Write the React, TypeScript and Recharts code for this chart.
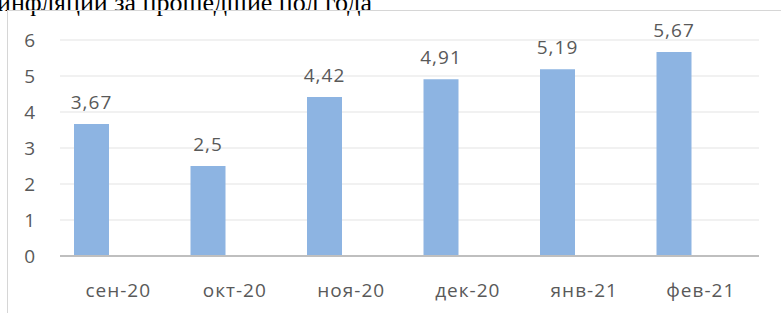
import { BarChart, Bar, CartesianGrid, XAxis, YAxis, LabelList } from 'recharts'

const months = ['сен-20', 'окт-20', 'ноя-20', 'дек-20', 'янв-21', 'фев-21']
const inflation = [3.67, 2.5, 4.42, 4.91, 5.19, 5.67]
const yTicks = [0, 1, 2, 3, 4, 5, 6]

const data = months.map((m, i) => ({ month: m, value: inflation[i], pad: null }))

const textColor = '#595959'
const font = '"Open Sans", sans-serif'
const textStyle = { fill: textColor, fontSize: 19, fontFamily: font, letterSpacing: 1 }

const fmt = (v: any) => (v == null ? '' : String(v).replace('.', ','))

export default function App() {
    return (
        <div style={{ position: 'absolute', left: 0, top: 0, width: 781, height: 313, overflow: 'hidden', background: '#fff' }}>
            <div style={{
                position: 'absolute', left: -3, top: -10, whiteSpace: 'nowrap',
                fontFamily: '"Liberation Serif", serif', fontSize: 26, lineHeight: '26px', color: '#000'
            }}>
                инфляции за прошедшие пол года
            </div>
            <div style={{
                position: 'absolute', left: 7, top: 10, width: 800, height: 400,
                borderTop: '1px solid #d6d6d6', borderLeft: '1px solid #d6d6d6'
            }} />
            <div style={{ position: 'absolute', left: 0, top: 0 }}>
                <BarChart width={781} height={313} data={data}
                    margin={{ top: 40, right: 22, bottom: 0, left: 0 }}
                    barCategoryGap={14} barGap={18.5}>
                    <CartesianGrid vertical={false} stroke="#ededed" strokeWidth={1.5} />
                    <XAxis dataKey="month" height={57} tickLine={false} tickSize={0} tickMargin={28}
                        axisLine={{ stroke: '#bfbfbf', strokeWidth: 2 }}
                        tick={textStyle} />
                    <YAxis width={60} domain={[0, 6]} ticks={yTicks} interval={0}
                        axisLine={false} tickLine={false} tickSize={0} tickMargin={24}
                        tick={textStyle} />
                    <Bar dataKey="value" fill="#8db4e2" isAnimationActive={false}>
                        <LabelList dataKey="value" position="top" offset={15} formatter={fmt}
                            style={textStyle} />
                    </Bar>
                    <Bar dataKey="pad" fill="#8db4e2" isAnimationActive={false} />
                </BarChart>
            </div>
        </div>
    )
}
